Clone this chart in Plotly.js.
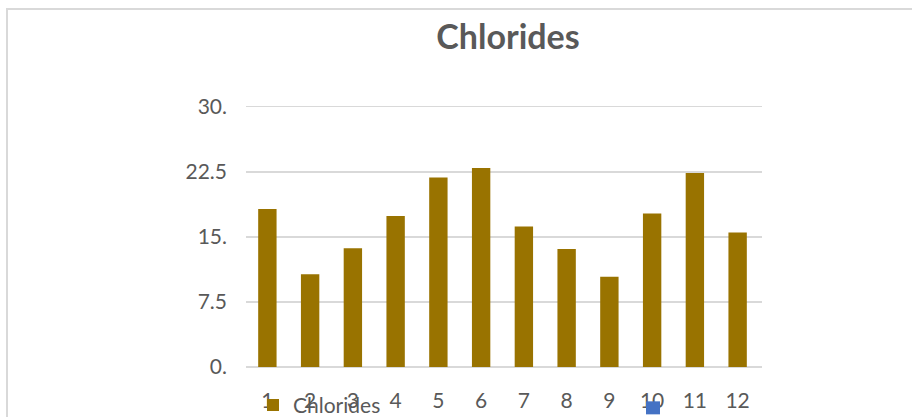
<!DOCTYPE html>
<html>
<head>
<meta charset="utf-8">
<script src="https://cdn.plot.ly/plotly-3.0.1.min.js"></script>
<style>
html,body{margin:0;padding:0;background:#fff;}
#chart{width:912px;height:417px;}
</style>
</head>
<body>
<div id="chart"></div>
<script>
const categories = ["1","2","3","4","5","6","7","8","9","10","11","12"];
const chlorides = [18.2, 10.7, 13.7, 17.4, 21.85, 22.95, 16.2, 13.6, 10.4, 17.7, 22.35, 15.5];
const yTickVals = [0, 7.5, 15, 22.5, 30];
const yTickText = ["0.", "7.5", "15.", "22.5", "30."];
const seriesName = "Chlorides";

const W = 912, H = 417;
const UNIT = 260 / 30;           // px per y unit
const YMAX = 30.2;
const L = 246, R = 762, B = 366.7, T = B - YMAX * UNIT;
function px(x){ return (x - L) / (R - L); }
function py(y){ return (B - y) / (B - T); }

const font = "Lato, 'Open Sans', sans-serif";
const grey = "#595959";

const trace = {
  type: "bar",
  x: categories,
  y: chlorides,
  name: seriesName,
  marker: {color: "#997300", line: {width: 0}},
  width: 0.43,
  hoverinfo: "x+y"
};

const layout = {
  width: W, height: H,
  margin: {l: L, r: W - R, t: T, b: H - B, pad: 0, autoexpand: false},
  paper_bgcolor: "#ffffff",
  plot_bgcolor: "#ffffff",
  font: {family: font, color: grey, size: 21},
  title: {
    text: "<b>Chlorides</b>",
    font: {family: font, size: 34, color: grey},
    xref: "paper", x: px(508), xanchor: "center",
    yref: "container", y: 1 - 37 / H, yanchor: "middle"
  },
  xaxis: {
    type: "category",
    range: [-0.5, 11.57],
    showgrid: false, zeroline: false, showline: false,
    ticks: "", ticklabelstandoff: 19,
    tickfont: {family: font, size: 21, color: grey},
    fixedrange: true
  },
  yaxis: {
    range: [0, YMAX],
    tickvals: yTickVals, ticktext: yTickText,
    showgrid: true, gridcolor: "#D9D9D9", gridwidth: 1.5,
    zeroline: true, zerolinecolor: "#D9D9D9", zerolinewidth: 1.5,
    showline: false, ticks: "", ticklabelstandoff: 18,
    tickfont: {family: font, size: 21, color: grey},
    fixedrange: true
  },
  showlegend: true,
  legend: {
    orientation: "h",
    x: px(253), xanchor: "left",
    y: py(405), yanchor: "middle",
    font: {family: font, size: 21, color: grey},
    bgcolor: "rgba(0,0,0,0)",
    itemclick: false
  },
  shapes: [
    {type: "rect", xref: "paper", yref: "paper",
     x0: px(7), x1: px(930), y0: py(440), y1: py(9),
     line: {color: "#D9D9D9", width: 2}, fillcolor: "rgba(0,0,0,0)", layer: "below"},
    {type: "rect", xref: "paper", yref: "paper",
     x0: px(646), x1: px(660), y0: py(414), y1: py(401),
     line: {width: 0}, fillcolor: "#4472C4"}
  ]
};

Plotly.newPlot("chart", [trace], layout, {displayModeBar: false, staticPlot: true});
</script>
</body>
</html>
